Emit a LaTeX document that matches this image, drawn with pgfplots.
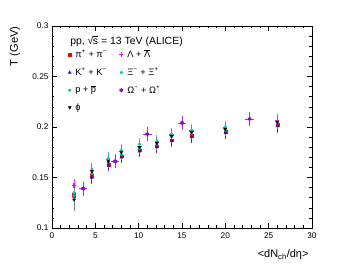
\documentclass[border=0pt]{standalone}
\usepackage{fontspec}
\setmainfont{Liberation Sans}
\usepackage{pgfplots}
\pgfplotsset{compat=1.18}
\definecolor{cpi}{RGB}{250,0,0}
\definecolor{cka}{RGB}{20,20,235}
\definecolor{cpr}{RGB}{0,200,110}
\definecolor{cphi}{RGB}{0,0,0}
\definecolor{cla}{RGB}{255,0,255}
\definecolor{cxi}{RGB}{0,200,200}
\definecolor{com}{RGB}{150,0,210}
\begin{document}
\begin{tikzpicture}
\path[use as bounding box] (-52bp,-39bp) rectangle (295bp,228bp);
\begin{axis}[
  at={(0,0)}, anchor=south west,
  scale only axis, width=260bp, height=202bp,
  xmin=0, xmax=30, ymin=0.1, ymax=0.3,
  xtick={0,5,...,30}, ytick={0.1,0.15,0.2,0.25,0.3},
  yticklabels={0.1,0.15,0.2,0.25,0.3},
  minor x tick num=4, minor y tick num=4,
  tick pos=both, tick align=inside,
  major tick length=5bp, minor tick length=2.5bp,
  tick style={black, line width=0.5bp},
  axis line style={line width=0.8bp},
  /pgf/number format/assume math mode=true,
  tick label style={font=\fontsize{8.3}{10}\selectfont},
  xticklabel style={yshift=-1bp},
  clip=false,
  xlabel={\textless dN\textsubscript{ch}/dη\textgreater},
  xlabel style={at={(axis description cs:1,-0.134)}, anchor=east, font=\fontsize{11}{13}\selectfont},
  ylabel={T (GeV)},
  ylabel style={at={(axis description cs:-0.142,1.015)}, anchor=east, font=\fontsize{11.2}{13}\selectfont},
  legend columns=2,
  legend cell align=left,
  legend style={draw=none, fill=none, at={(axis description cs:0.062,0.894)}, anchor=north west,
    font=\fontsize{9.3}{11}\selectfont, row sep=4.6bp, inner sep=0pt,
    /tikz/every odd column/.append style={column sep=2bp}},
  legend image code/.code={\draw[#1, mark repeat=2, mark phase=2] plot coordinates {(0bp,0bp)(3bp,0bp)(6bp,0bp)};},
  error bars/y dir=both, error bars/y explicit,
  error bars/error mark=none,
]
% pi
\addplot[only marks, color=cpi, mark=square*, mark size=1.4bp, error bars/error bar style={line width=0.8bp, opacity=0.8}]
 table[x=x,y=y,y error=e]{
x y e
2.55 0.133 0.007
4.60 0.152 0.006
6.50 0.163 0.006
8.00 0.171 0.006
10.1 0.177 0.006
12.1 0.181 0.006
13.8 0.187 0.006
16.1 0.191 0.006
20.0 0.195 0.006
26.0 0.202 0.006
};
\addlegendentry{\makebox[42bp][l]{π\textsuperscript{+} + π\textsuperscript{−}}}
% Lambda
\addplot[only marks, color=cla, mark=+, mark size=2.1bp, mark options={line width=1.3bp}, error bars/error bar style={line width=0.8bp, opacity=0.8}]
 table[x=x,y=y,y error=e]{
x y e
2.55 0.142 0.007
4.60 0.157 0.006
6.50 0.168 0.006
8.00 0.176 0.006
10.1 0.181 0.006
12.1 0.185 0.006
13.8 0.192 0.006
16.1 0.196 0.006
20.0 0.199 0.006
26.0 0.206 0.007
};
\addlegendentry{Λ + $\overline{\hbox{Λ}}$}
% K
\addplot[only marks, color=cka, mark=triangle*, mark size=1.7bp, error bars/error bar style={line width=0.8bp, opacity=0.8}]
 table[x=x,y=y,y error=e]{
x y e
2.55 0.131 0.007
4.60 0.150 0.006
6.50 0.162 0.006
8.00 0.170 0.006
10.1 0.176 0.006
12.1 0.180 0.006
13.8 0.186 0.006
16.1 0.190 0.006
20.0 0.194 0.006
26.0 0.201 0.007
};
\addlegendentry{\makebox[42bp][l]{K\textsuperscript{+} + K\textsuperscript{−}}}
% Xi
\addplot[only marks, color=cxi, mark=diamond*, mark size=1.7bp, error bars/error bar style={line width=0.8bp, opacity=0.8}]
 table[x=x,y=y,y error=e]{
x y e
2.55 0.135 0.007
4.60 0.158 0.006
6.50 0.169 0.006
8.00 0.177 0.006
10.1 0.183 0.006
12.1 0.186 0.006
13.8 0.193 0.006
16.1 0.197 0.006
20.0 0.200 0.006
26.0 0.205 0.006
};
\addlegendentry{Ξ\textsuperscript{−} + Ξ\textsuperscript{+}}
% p
\addplot[only marks, color=cpr, mark=*, mark size=1.4bp, error bars/error bar style={line width=0.8bp, opacity=0.8}]
 table[x=x,y=y,y error=e]{
x y e
2.55 0.132 0.007
4.60 0.154 0.006
6.50 0.165 0.006
8.00 0.173 0.006
10.1 0.179 0.006
12.1 0.183 0.006
13.8 0.190 0.006
16.1 0.194 0.006
20.0 0.197 0.006
26.0 0.204 0.006
};
\addlegendentry{\makebox[42bp][l]{p + $\overline{\hbox{p}}$}}
% Omega
\addplot[only marks, color=com, mark=asterisk, mark size=2.1bp, mark options={line width=1.1bp},
  error bars/x dir=both, error bars/x explicit, error bars/error bar style={line width=0.8bp, opacity=0.8}]
 table[x=x,y=y,x error=ex,y error=e]{
x y ex e
3.6 0.139 0.45 0.007
7.3 0.166 0.45 0.007
11.0 0.193 0.5 0.007
15.0 0.204 0.5 0.007
22.8 0.208 0.55 0.007
};
\addlegendentry{Ω\textsuperscript{−} + Ω\textsuperscript{+}}
% phi
\addplot[only marks, color=cphi, mark=triangle*, mark options={rotate=180}, mark size=1.7bp, error bars/error bar style={line width=0.8bp, color=gray}]
 table[x=x,y=y,y error=e]{
x y e
2.55 0.128 0.011
4.60 0.156 0.007
6.50 0.166 0.007
8.00 0.175 0.006
10.1 0.180 0.006
12.1 0.184 0.006
13.8 0.191 0.006
16.1 0.195 0.006
20.0 0.198 0.006
26.0 0.205 0.006
};
\addlegendentry{ϕ}
\node[anchor=west, font=\fontsize{10.5}{12}\selectfont] at (axis cs:1.70,0.2845) {pp, √\kern-0.5pt\rlap{\raisebox{8.3pt}{\rule{5.3pt}{0.4pt}}}s = 13 TeV (ALICE)};
\end{axis}
\end{tikzpicture}
\end{document}
